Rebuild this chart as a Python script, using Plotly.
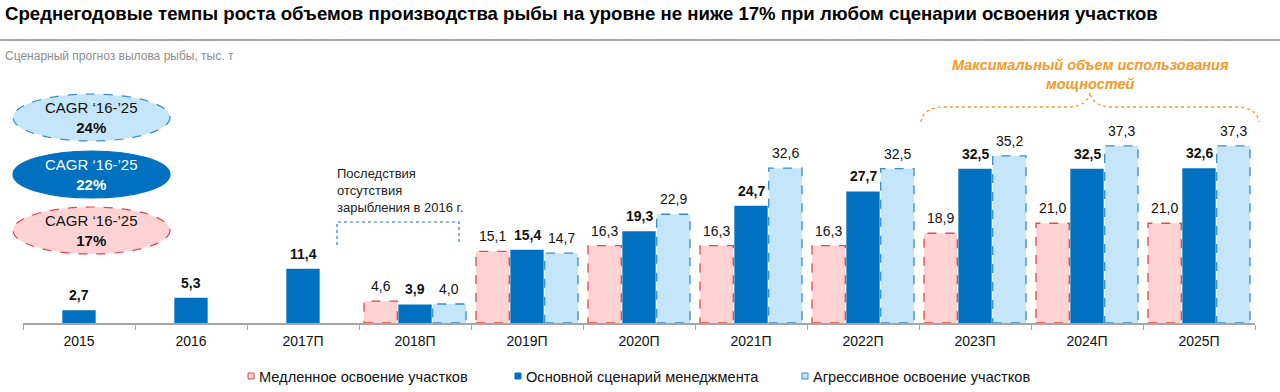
import plotly.graph_objects as go

categories = ["2015", "2016", "2017П", "2018П", "2019П", "2020П", "2021П", "2022П", "2023П", "2024П", "2025П"]
slow = [None, None, None, 4.6, 15.1, 16.3, 16.3, 16.3, 18.9, 21.0, 21.0]
base = [2.7, 5.3, 11.4, 3.9, 15.4, 19.3, 24.7, 27.7, 32.5, 32.5, 32.6]
aggressive = [None, None, None, 4.0, 14.7, 22.9, 32.6, 32.5, 35.2, 37.3, 37.3]
series_names = ["Медленное освоение участков", "Основной сценарий менеджмента", "Агрессивное освоение участков"]
cagr = ["24%", "22%", "17%"]

W, H = 1280, 392
L, R, T, B = 23, 25, 133, 69
PW, PH = W - L - R, H - T - B
FONT = "Arial, Liberation Sans, sans-serif"
BARGAP, GROUPGAP = 0.08, 0.03

def px(x):
    return (x - L) / PW

def py(y):
    return (H - B - y) / PH

RED = "#E2474C"
PINK = "#FFD3D3"
BLUE = "#0070C0"
LBLUE = "#C5E6FA"
LBLUE_LINE = "#3A8CC8"

fills = [PINK, BLUE, LBLUE]
borders = [RED, BLUE, LBLUE_LINE]

fig = go.Figure()
for series, name, fc in zip((slow, base, aggressive), series_names, fills):
    fig.add_trace(go.Bar(x=categories, y=series, name=name, showlegend=False,
                         marker=dict(color=fc, line=dict(width=0))))

def fmt(v):
    return f"{v:.1f}".replace(".", ",")

slot = (1 - BARGAP) / 3
bw = slot * (1 - GROUPGAP)
shapes = []
anns = []
for k, (series, bold, lc) in enumerate(((slow, False, RED), (base, True, None), (aggressive, False, LBLUE_LINE))):
    off = (k - 1) * slot
    for i, v in enumerate(series):
        if v is None:
            continue
        t = fmt(v)
        anns.append(dict(x=i + off, y=v, xref="x", yref="y", text=f"<b>{t}</b>" if bold else t,
                         showarrow=False, yshift=5, yanchor="bottom", xanchor="center",
                         font=dict(size=14, color="#111111", family=FONT)))
        if lc:
            shapes.append(dict(type="rect", xref="x", yref="y", x0=i + off - bw / 2, x1=i + off + bw / 2,
                               y0=0, y1=v, line=dict(color=lc, width=1.3, dash="dash"), layer="above"))

# Title, subtitle
anns.append(dict(x=px(3), y=py(13), xref="paper", yref="paper", xanchor="left", yanchor="middle",
                 text="<b>Среднегодовые темпы роста объемов производства рыбы на уровне не ниже 17% при любом сценарии освоения участков</b>",
                 showarrow=False, font=dict(size=18.6, color="#000000", family=FONT)))
anns.append(dict(x=px(3), y=py(56), xref="paper", yref="paper", xanchor="left", yanchor="middle",
                 text="Сценарный прогноз вылова рыбы, тыс. т",
                 showarrow=False, font=dict(size=12, color="#8C8C8C", family=FONT)))

shapes.append(dict(type="line", xref="paper", yref="paper", x0=px(0), x1=px(1280), y0=py(40), y1=py(40),
                   line=dict(color="#A6A6A6", width=2)))
ell = [(94, 141, LBLUE, LBLUE_LINE, "dash", "#111111"),
       (151, 198, BLUE, BLUE, "solid", "#FFFFFF"),
       (207, 254, PINK, RED, "dash", "#111111")]
for (y0, y1, fill, line, dash, tc), pct in zip(ell, cagr):
    shapes.append(dict(type="circle", xref="paper", yref="paper", x0=px(13), x1=px(170),
                       y0=py(y1), y1=py(y0), fillcolor=fill, line=dict(color=line, width=1.2, dash=dash)))
    anns.append(dict(x=px(91.5), y=py((y0 + y1) / 2), xref="paper", yref="paper",
                     xanchor="center", yanchor="middle",
                     text=f"CAGR ‘16-’25<br><b>{pct}</b>", showarrow=False,
                     font=dict(size=15, color=tc, family=FONT)))

anns.append(dict(x=px(335), y=py(190), xref="paper", yref="paper", xanchor="left", yanchor="middle",
                 align="left", text="Последствия<br>отсутствия<br>зарыбления в 2016 г.", showarrow=False,
                 font=dict(size=13, color="#222222", family=FONT)))
shapes.append(dict(type="path", xref="paper", yref="paper",
                   path=f"M {px(337)} {py(245)} L {px(337)} {py(222)} L {px(459)} {py(222)} L {px(459)} {py(245)}",
                   line=dict(color="#2E75B6", width=1.2, dash="dot")))

ORANGE = "#F39A2B"
anns.append(dict(x=px(1090), y=py(75), xref="paper", yref="paper", xanchor="center", yanchor="middle",
                 text="<b><i>Максимальный объем использования<br>мощностей</i></b>", showarrow=False,
                 font=dict(size=14.5, color=ORANGE, family=FONT)))
brace = (f"M {px(921)} {py(122)} Q {px(923)} {py(107)} {px(945)} {py(107)} "
         f"L {px(1070)} {py(107)} Q {px(1088)} {py(106)} {px(1090)} {py(92)} "
         f"Q {px(1092)} {py(106)} {px(1110)} {py(107)} L {px(1235)} {py(107)} "
         f"Q {px(1257)} {py(107)} {px(1259)} {py(122)}")
shapes.append(dict(type="path", xref="paper", yref="paper", path=brace,
                   line=dict(color=ORANGE, width=1.3, dash="dot")))

# Custom legend
legend_x = [248, 515, 802]
for lx, name, fc, bc in zip(legend_x, series_names, fills, borders):
    shapes.append(dict(type="rect", xref="paper", yref="paper", x0=px(lx), x1=px(lx + 6),
                       y0=py(379), y1=py(373), fillcolor=fc, line=dict(color=bc, width=1)))
    anns.append(dict(x=px(lx + 9), y=py(377), xref="paper", yref="paper", xanchor="left", yanchor="middle",
                     text=name, showarrow=False, font=dict(size=14.6, color="#111111", family=FONT)))

fig.update_layout(
    width=W, height=H,
    margin=dict(l=L, r=R, t=T, b=B),
    plot_bgcolor="white", paper_bgcolor="white",
    barmode="group", bargap=BARGAP, bargroupgap=GROUPGAP,
    font=dict(family=FONT, size=13, color="#111111"),
    showlegend=False,
    xaxis=dict(type="category", range=[-0.5, len(categories) - 0.5], autorange=False,
               showline=True, linecolor="#A6A6A6", linewidth=1.5,
               ticks="outside", tickson="boundaries", ticklen=5, tickcolor="#A6A6A6",
               ticklabelstandoff=4,
               tickfont=dict(size=14, color="#111111"), showgrid=False),
    yaxis=dict(range=[0, 40], visible=False, showgrid=False),
    annotations=anns, shapes=shapes,
)
fig.write_html("out.html", config={"displayModeBar": False},
               post_script="document.body.style.margin='0';document.body.style.overflow='hidden';")
